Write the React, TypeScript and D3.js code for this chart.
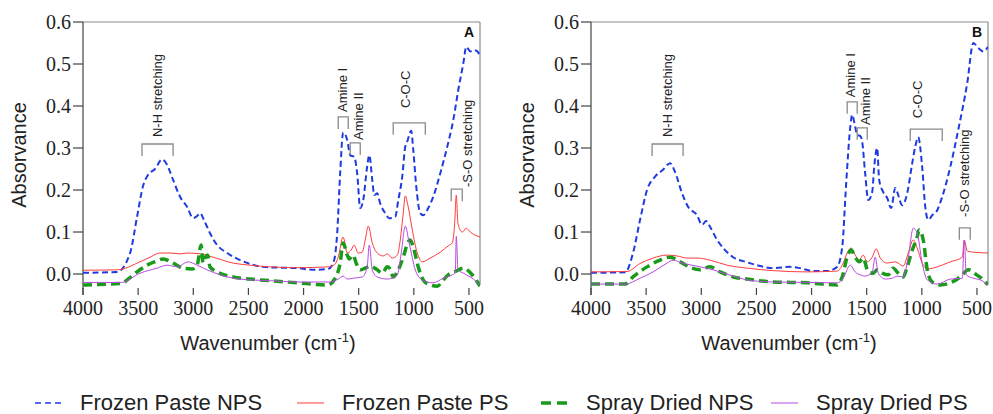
import React from "react";
import * as d3 from "d3";

type P = [number, number];

const xTicks = [4000, 3500, 3000, 2500, 2000, 1500, 1000, 500];
const yTicks = [0, 0.1, 0.2, 0.3, 0.4, 0.5, 0.6];
const seriesNames = ["Frozen Paste NPS", "Frozen Paste PS", "Spray Dried NPS", "Spray Dried PS"];

const aFrozenNPS: P[] = [[4000,0.003],[3690,0.005],[3573,0.05],[3510,0.136],[3455,0.21],[3410,0.236],[3347,0.25],[3283,0.273],[3238,0.26],[3183,0.224],[3120,0.184],[3056,0.16],[3002,0.133],[2965,0.138],[2938,0.145],[2902,0.128],[2848,0.097],[2784,0.069],[2693,0.05],[2575,0.033],[2485,0.024],[2367,0.017],[2212,0.015],[2058,0.014],[1913,0.01],[1780,0.012],[1732,0.025],[1695,0.097],[1668,0.24],[1641,0.337],[1604,0.319],[1577,0.283],[1541,0.279],[1514,0.24],[1486,0.157],[1459,0.176],[1423,0.256],[1404,0.283],[1377,0.224],[1359,0.188],[1332,0.192],[1305,0.168],[1260,0.145],[1223,0.133],[1169,0.136],[1141,0.176],[1105,0.232],[1078,0.303],[1060,0.315],[1024,0.341],[1005,0.295],[978,0.208],[942,0.145],[915,0.14],[869,0.157],[824,0.184],[760,0.24],[697,0.303],[642,0.367],[597,0.438],[551,0.502],[524,0.541],[488,0.53],[460,0.533],[424,0.53],[400,0.518]];
const aFrozenPS: P[] = [[4000,0.009],[3690,0.01],[3483,0.029],[3392,0.04],[3301,0.05],[3211,0.05],[3120,0.048],[3047,0.05],[2938,0.048],[2820,0.04],[2639,0.026],[2485,0.021],[2300,0.017],[2058,0.015],[1780,0.017],[1720,0.022],[1686,0.04],[1641,0.088],[1604,0.05],[1568,0.057],[1541,0.069],[1505,0.05],[1468,0.052],[1441,0.081],[1413,0.114],[1377,0.074],[1332,0.05],[1278,0.043],[1241,0.048],[1196,0.038],[1150,0.045],[1123,0.081],[1096,0.145],[1078,0.186],[1051,0.16],[1014,0.105],[969,0.05],[924,0.029],[851,0.038],[760,0.052],[688,0.067],[651,0.074],[630,0.12],[615,0.188],[600,0.12],[561,0.1],[524,0.109],[488,0.1],[400,0.088]];
const aSprayNPS: P[] = [[4000,-0.026],[3650,-0.022],[3580,-0.01],[3510,0.005],[3420,0.021],[3328,0.031],[3274,0.036],[3183,0.026],[3093,0.014],[3011,0.012],[2965,0.021],[2929,0.069],[2911,0.026],[2890,0.04],[2870,0.045],[2848,0.017],[2784,0.005],[2639,-0.007],[2485,-0.012],[2300,-0.016],[2058,-0.021],[1780,-0.026],[1713,-0.01],[1668,0.026],[1641,0.074],[1604,0.045],[1586,0.036],[1550,0.045],[1523,0.026],[1486,0.01],[1441,0.014],[1395,0.019],[1332,0.01],[1287,0.002],[1241,0.017],[1214,0.012],[1187,-0.007],[1141,0.01],[1096,0.04],[1051,0.077],[1033,0.081],[1005,0.064],[960,0.017],[915,-0.014],[851,-0.026],[787,-0.029],[733,-0.014],[670,0.002],[615,0.007],[551,0.014],[488,0.003],[424,-0.019],[400,-0.029]];
const aSprayPS: P[] = [[4000,-0.02],[3650,-0.02],[3483,0.002],[3328,0.014],[3238,0.021],[3147,0.017],[3047,0.029],[2965,0.021],[2875,0.01],[2757,-0.002],[2575,-0.012],[2300,-0.016],[2058,-0.019],[1759,-0.019],[1686,-0.012],[1641,-0.005],[1604,-0.012],[1550,-0.01],[1468,-0.007],[1423,0.017],[1404,0.069],[1377,0.01],[1332,-0.007],[1241,-0.012],[1150,-0.002],[1114,0.05],[1078,0.114],[1042,0.074],[987,0.01],[924,-0.014],[824,-0.021],[733,-0.01],[651,-0.002],[624,0.003],[615,0.09],[600,0.01],[551,0.002],[460,-0.012],[400,-0.026]];

const bFrozenNPS: P[] = [[4000,0.003],[3691,0.004],[3619,0.05],[3555,0.129],[3492,0.2],[3419,0.232],[3347,0.248],[3283,0.264],[3238,0.243],[3174,0.192],[3120,0.16],[3038,0.14],[2993,0.117],[2956,0.126],[2920,0.112],[2856,0.081],[2802,0.062],[2711,0.04],[2584,0.028],[2494,0.021],[2348,0.014],[2194,0.017],[2103,0.014],[1985,0.007],[1858,0.007],[1768,0.017],[1722,0.064],[1686,0.216],[1650,0.347],[1632,0.379],[1604,0.35],[1586,0.331],[1559,0.329],[1541,0.315],[1514,0.24],[1486,0.176],[1450,0.195],[1432,0.255],[1405,0.3],[1387,0.224],[1350,0.195],[1314,0.181],[1278,0.157],[1241,0.205],[1223,0.195],[1178,0.164],[1133,0.192],[1087,0.264],[1060,0.303],[1033,0.326],[997,0.255],[969,0.16],[942,0.129],[906,0.14],[860,0.152],[815,0.184],[742,0.255],[670,0.343],[588,0.455],[533,0.55],[488,0.538],[442,0.53],[400,0.541]];
const bFrozenPS: P[] = [[4000,0.005],[3673,0.006],[3555,0.025],[3437,0.038],[3310,0.045],[3220,0.043],[3129,0.038],[3038,0.038],[2920,0.033],[2766,0.021],[2584,0.014],[2348,0.008],[2040,0.005],[1768,0.007],[1713,0.026],[1677,0.05],[1641,0.062],[1604,0.045],[1568,0.033],[1532,0.045],[1495,0.029],[1450,0.04],[1414,0.06],[1377,0.038],[1314,0.026],[1241,0.029],[1169,0.019],[1123,0.05],[1078,0.081],[1042,0.062],[997,0.026],[951,0.012],[860,0.017],[742,0.029],[633,0.04],[615,0.081],[588,0.055],[533,0.052],[400,0.05]];
const bSprayNPS: P[] = [[4000,-0.024],[3691,-0.024],[3619,-0.007],[3492,0.017],[3374,0.033],[3283,0.04],[3192,0.029],[3084,0.014],[3011,0.01],[2920,0.017],[2829,0.005],[2711,-0.007],[2584,-0.012],[2348,-0.019],[2040,-0.021],[1768,-0.026],[1722,-0.007],[1677,0.04],[1641,0.057],[1604,0.04],[1568,0.029],[1532,0.038],[1486,0.005],[1441,0.002],[1405,0.01],[1359,0.002],[1305,-0.002],[1260,0.014],[1214,0.002],[1169,-0.007],[1133,0.017],[1087,0.057],[1042,0.088],[1024,0.105],[987,0.081],[951,0.01],[906,-0.019],[833,-0.026],[742,-0.021],[651,-0.007],[578,0.01],[515,0.0],[451,-0.012],[400,-0.026]];
const bSprayPS: P[] = [[4000,-0.024],[3691,-0.024],[3555,-0.01],[3437,0.005],[3310,0.026],[3256,0.033],[3174,0.026],[3084,0.021],[3011,0.017],[2893,0.01],[2711,-0.005],[2584,-0.014],[2348,-0.019],[2040,-0.02],[1768,-0.021],[1713,-0.01],[1650,0.021],[1604,0.005],[1559,-0.002],[1514,-0.005],[1450,0.005],[1423,0.04],[1395,0.002],[1332,-0.012],[1269,-0.01],[1223,-0.005],[1169,-0.007],[1123,0.04],[1078,0.109],[1042,0.098],[997,0.026],[951,-0.014],[860,-0.024],[742,-0.012],[633,-0.01],[615,0.081],[597,-0.002],[533,-0.01],[469,-0.014],[400,-0.026]];

type Ann = { label: string; lo: number; hi: number; top: number; tx: number; tb: number };
const annA: Ann[] = [
  { label: "N-H stretching", lo: 3465, hi: 3183, top: 0.3095, tx: 3328, tb: 0.326 },
  { label: "Amine I", lo: 1686, hi: 1595, top: 0.374, tx: 1650, tb: 0.386 },
  { label: "Amine II", lo: 1577, hi: 1486, top: 0.312, tx: 1505, tb: 0.319 },
  { label: "C-O-C", lo: 1187, hi: 896, top: 0.36, tx: 1078, tb: 0.395 },
  { label: "-S-O stretching", lo: 661, hi: 561, top: 0.202, tx: 515, tb: 0.207 },
];
const annB: Ann[] = [
  { label: "N-H stretching", lo: 3446, hi: 3165, top: 0.3095, tx: 3310, tb: 0.326 },
  { label: "Amine I", lo: 1677, hi: 1586, top: 0.41, tx: 1650, tb: 0.421 },
  { label: "Amine II", lo: 1586, hi: 1495, top: 0.348, tx: 1514, tb: 0.355 },
  { label: "C-O-C", lo: 1105, hi: 815, top: 0.345, tx: 1042, tb: 0.371 },
  { label: "-S-O stretching", lo: 660, hi: 561, top: 0.11, tx: 615, tb: 0.136 },
];

const styles = [
  { color: "#1f3be0", width: 2, dash: "6,3.5" },
  { color: "#ff3b3b", width: 1, dash: "" },
  { color: "#1a9a1a", width: 3.5, dash: "9,5" },
  { color: "#b84ae0", width: 1, dash: "" },
];

const SANS = "'Liberation Sans', Arial, sans-serif";
const SERIF = "'Liberation Serif', 'Times New Roman', serif";

const TOP = 22;
const BOTTOM = 288;
const W = 397;

function Panel({ left, series, ann, letter, titleX, id }: { left: number; series: P[][]; ann: Ann[]; letter: string; titleX: number; id: string }) {
  const x = d3.scaleLinear().domain([4000, 400]).range([left, left + W]);
  const y = d3.scaleLinear().domain([-0.0333, 0.6]).range([BOTTOM, TOP]);
  const line = d3.line<P>().x(d => x(d[0])).y(d => y(d[1])).curve(d3.curveMonotoneX);
  const fmt = d3.format(".1f");
  const axisColor = "#444";
  const frameColor = "#8a8a8a";
  const serifStyle = { fontFamily: SERIF, fontSize: 20 };
  const sansStyle = { fontFamily: SANS };
  return (
    <g>
      <defs>
        <clipPath id={id}>
          <rect x={left} y={TOP} width={W} height={BOTTOM - TOP + 2} />
        </clipPath>
      </defs>
      <line x1={left} x2={left + W} y1={TOP} y2={TOP} stroke={frameColor} strokeWidth={1.2} />
      <line x1={left + W} x2={left + W} y1={TOP} y2={BOTTOM - 3} stroke={frameColor} strokeWidth={1.2} />
      <line x1={left} x2={left} y1={TOP} y2={BOTTOM + 7} stroke={axisColor} strokeWidth={1.2} />
      {yTicks.map(t => (
        <g key={t}>
          <line x1={left - 10} x2={left} y1={y(t)} y2={y(t)} stroke={axisColor} strokeWidth={1.2} />
          <text x={left - 12} y={y(t)} dy="0.35em" textAnchor="end" style={serifStyle} fill="#222">{fmt(t)}</text>
        </g>
      ))}
      {xTicks.map(t => (
        <g key={t}>
          <line x1={x(t)} x2={x(t)} y1={BOTTOM} y2={BOTTOM + 7} stroke={axisColor} strokeWidth={1.2} />
          <text x={x(t)} y={315} textAnchor="middle" style={serifStyle} fill="#222">{t}</text>
        </g>
      ))}
      <text x={titleX} y={350} textAnchor="middle" style={{ ...sansStyle, fontSize: 20 }} fill="#222">
        Wavenumber (cm<tspan dy={-8} fontSize={13}>-1</tspan><tspan dy={8}>)</tspan>
      </text>
      <text transform={`translate(${left - 57},155) rotate(-90)`} textAnchor="middle" style={{ ...sansStyle, fontSize: 20 }} fill="#222">Absorvance</text>
      <g clipPath={`url(#${id})`}>
        {series.map((s, i) => (
          <path key={i} d={line(s) || ""} fill="none" stroke={styles[i].color} strokeWidth={styles[i].width} strokeDasharray={styles[i].dash || undefined} strokeLinejoin="round" />
        ))}
      </g>
      {ann.map(a => {
        const x1 = x(a.lo), x2 = x(a.hi), yt = y(a.top);
        return (
          <g key={a.label}>
            <path d={`M${x1},${yt + 12}V${yt}H${x2}V${yt + 12}`} fill="none" stroke="#8a8a8a" strokeWidth={1.3} />
            <text transform={`translate(${x(a.tx)},${y(a.tb)}) rotate(-90)`} dominantBaseline="central" style={{ ...sansStyle, fontSize: 13 }} fill="#222">{a.label}</text>
          </g>
        );
      })}
      <text x={left + W - 6} y={37} textAnchor="end" style={{ ...sansStyle, fontSize: 14, fontWeight: "bold" }} fill="#111">{letter}</text>
    </g>
  );
}

export default function App() {
  const legendX = [35, 297, 541, 771];
  return (
    <div style={{ position: "absolute", left: 0, top: 0 }}>
      <svg width={993} height={414} style={{ display: "block", background: "#fff" }}>
        <Panel left={83} series={[aFrozenNPS, aFrozenPS, aSprayNPS, aSprayPS]} ann={annA} letter="A" titleX={268} id="clipA" />
        <Panel left={591} series={[bFrozenNPS, bFrozenPS, bSprayNPS, bSprayPS]} ann={annB} letter="B" titleX={789} id="clipB" />
        {seriesNames.map((n, i) => (
          <g key={n}>
            <line x1={legendX[i]} x2={legendX[i] + 27} y1={403} y2={403} stroke={styles[i].color} strokeWidth={i === 2 ? 3.5 : i === 0 ? 1.6 : 1}
              strokeDasharray={i === 0 ? "6,4" : i === 2 ? "10,6" : undefined} />
            <text x={legendX[i] + 45} y={410} style={{ fontFamily: SANS, fontSize: 22 }} fill="#222">{n}</text>
          </g>
        ))}
      </svg>
    </div>
  );
}
